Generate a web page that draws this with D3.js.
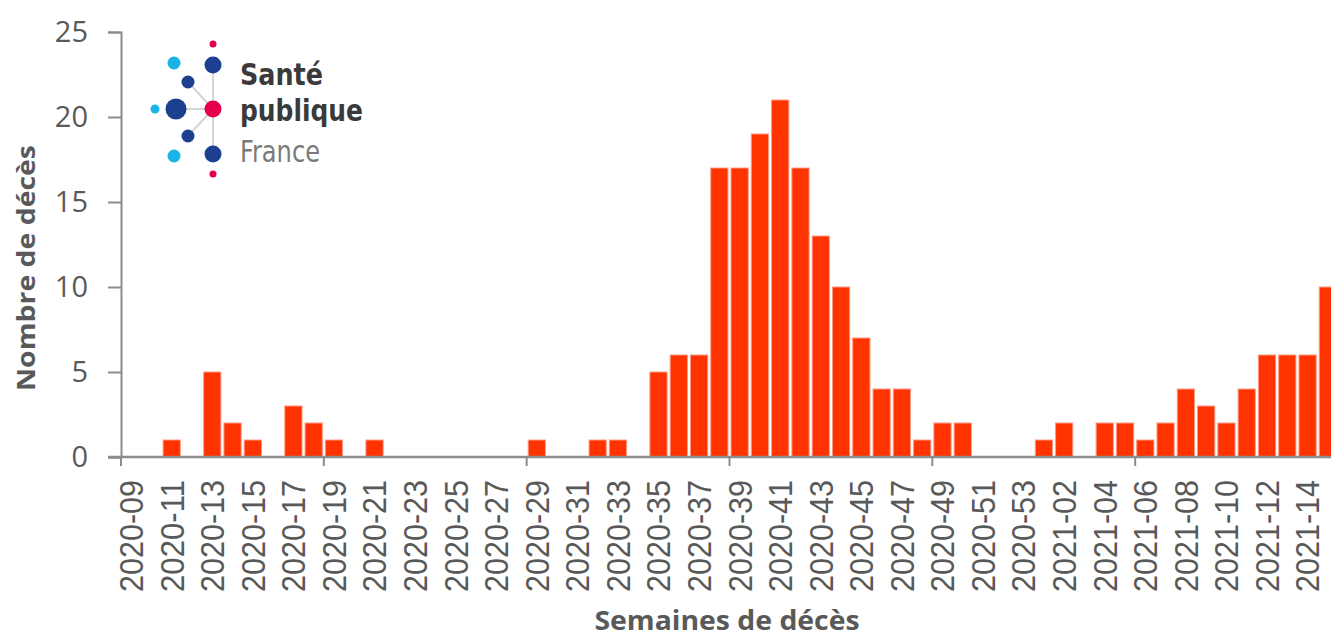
<!DOCTYPE html>
<html>
<head>
<meta charset="utf-8">
<script src="https://cdn.jsdelivr.net/npm/d3@7"></script>
<style>
  html, body { margin: 0; padding: 0; background: #fff; overflow: hidden; }
  svg { display: block; }
</style>
</head>
<body>
<svg id="chart" width="1331" height="637"></svg>
<script>
// Weekly death counts, 2020-09 to 2021-15
const weeks = [
  "2020-09","2020-10","2020-11","2020-12","2020-13","2020-14","2020-15","2020-16","2020-17","2020-18",
  "2020-19","2020-20","2020-21","2020-22","2020-23","2020-24","2020-25","2020-26","2020-27","2020-28",
  "2020-29","2020-30","2020-31","2020-32","2020-33","2020-34","2020-35","2020-36","2020-37","2020-38",
  "2020-39","2020-40","2020-41","2020-42","2020-43","2020-44","2020-45","2020-46","2020-47","2020-48",
  "2020-49","2020-50","2020-51","2020-52","2020-53","2021-01","2021-02","2021-03","2021-04","2021-05",
  "2021-06","2021-07","2021-08","2021-09","2021-10","2021-11","2021-12","2021-13","2021-14","2021-15"
];
const deaths = [
  0,0,1,0,5,2,1,0,3,2,
  1,0,1,0,0,0,0,0,0,0,
  1,0,0,1,1,0,5,6,6,17,
  17,19,21,17,13,10,7,4,4,1,
  2,2,0,0,0,1,2,0,2,2,
  1,2,4,3,2,4,6,6,6,10
];
const yTicks = [0, 5, 10, 15, 20, 25];
const xLabelEvery = 2;   // one label every other week
const xTickEvery = 10;   // one tick mark every ten weeks

const xTitle = "Semaines de décès";
const yTitle = "Nombre de décès";
const logoLines = ["Santé", "publique", "France"];

const svg = d3.select("#chart");
const axisColor = "#8c8c8c";
const textColor = "#595959";

const x = d3.scaleBand()
  .domain(weeks)
  .range([121, 1338])
  .paddingInner(0.15)
  .paddingOuter(0.075);

const y = d3.scaleLinear().domain([0, 25]).range([457, 32]);

// Bars
svg.append("g")
  .selectAll("rect")
  .data(weeks.map((w, i) => ({ w, v: deaths[i] })).filter(d => d.v > 0))
  .join("rect")
  .attr("x", d => x(d.w))
  .attr("y", d => y(d.v))
  .attr("width", x.bandwidth())
  .attr("height", d => y(0) - y(d.v))
  .attr("fill", "#ff3300")
  .attr("stroke", "#ff9a85")
  .attr("stroke-width", 1);

// Y axis
const yAxis = svg.append("g")
  .attr("transform", `translate(${x.range()[0]},0)`)
  .call(d3.axisLeft(y).tickValues(yTicks).tickSize(13).tickPadding(20).tickSizeOuter(13));
yAxis.select(".domain").attr("stroke", axisColor).attr("stroke-width", 2);
yAxis.selectAll(".tick line").attr("stroke", axisColor).attr("stroke-width", 2);
yAxis.selectAll(".tick text")
  .attr("fill", textColor)
  .style("font-family", "'Open Sans', sans-serif")
  .style("font-size", "29px");

// X axis: labels centred on every other week
const xAxis = svg.append("g")
  .attr("transform", `translate(0,${y(0)})`)
  .call(d3.axisBottom(x)
    .tickValues(weeks.filter((w, i) => i % xLabelEvery === 0))
    .tickSize(0).tickSizeOuter(0));
xAxis.select(".domain").remove();
xAxis.selectAll(".tick text")
  .attr("fill", textColor)
  .attr("transform", "rotate(-90)")
  .attr("text-anchor", "end")
  .attr("x", -23)
  .attr("y", 0)
  .attr("dy", "0.36em")
  .attr("textLength", 112)
  .attr("lengthAdjust", "spacingAndGlyphs")
  .style("font-family", "'Liberation Sans', Arial, sans-serif")
  .style("font-size", "33px");

// X axis baseline and boundary tick marks
const step = x.step();
const boundary = i => x(weeks[i]) - x.paddingInner() * step / 2;
svg.append("line")
  .attr("x1", x.range()[0] - 13).attr("x2", x.range()[1])
  .attr("y1", y(0)).attr("y2", y(0))
  .attr("stroke", axisColor).attr("stroke-width", 2.5);
svg.append("g")
  .selectAll("line")
  .data(d3.range(0, weeks.length, xTickEvery))
  .join("line")
  .attr("x1", i => boundary(i)).attr("x2", i => boundary(i))
  .attr("y1", y(0)).attr("y2", y(0) + 9)
  .attr("stroke", axisColor).attr("stroke-width", 2);

// Axis titles
svg.append("text")
  .attr("x", 727).attr("y", 630)
  .attr("text-anchor", "middle")
  .attr("textLength", 265).attr("lengthAdjust", "spacingAndGlyphs")
  .attr("fill", textColor)
  .style("font-family", "'Open Sans', sans-serif")
  .style("font-weight", "bold")
  .style("font-size", "26px")
  .text(xTitle);

svg.append("text")
  .attr("transform", "translate(35,268) rotate(-90)")
  .attr("text-anchor", "middle")
  .attr("textLength", 246).attr("lengthAdjust", "spacingAndGlyphs")
  .attr("fill", textColor)
  .style("font-family", "'Open Sans', sans-serif")
  .style("font-weight", "bold")
  .style("font-size", "25px")
  .text(yTitle);

// Santé publique France logo
const logo = svg.append("g");
const navy = "#1d3f8f", sky = "#19b3e6", pink = "#e6004c";
const hub = { x: 213, y: 109 };
const spokes = [[213, 65], [213, 156], [176, 109], [188, 82], [188, 136]];
logo.selectAll("line.spoke")
  .data(spokes)
  .join("line")
  .attr("class", "spoke")
  .attr("x1", hub.x).attr("y1", hub.y)
  .attr("x2", d => d[0]).attr("y2", d => d[1])
  .attr("stroke", "#d4d4d4").attr("stroke-width", 2);
const dots = [
  [213, 44, 3.5, pink], [213, 65, 8.5, navy], [174, 63, 6.5, sky], [188, 82, 6.5, navy],
  [176, 109, 10.5, navy], [155, 109, 4.5, sky], [213, 109, 8.5, pink],
  [188, 136, 6.5, navy], [174, 156, 6.5, sky], [213, 154, 8.5, navy], [213, 174, 3.5, pink]
];
logo.selectAll("circle")
  .data(dots)
  .join("circle")
  .attr("cx", d => d[0]).attr("cy", d => d[1]).attr("r", d => d[2])
  .attr("fill", d => d[3]);
const logoText = [
  { t: logoLines[0], y: 85, w: 83, bold: true },
  { t: logoLines[1], y: 121, w: 123, bold: true },
  { t: logoLines[2], y: 162, w: 80, bold: false }
];
logo.selectAll("text")
  .data(logoText)
  .join("text")
  .attr("x", 240).attr("y", d => d.y)
  .attr("textLength", d => d.w).attr("lengthAdjust", "spacingAndGlyphs")
  .attr("fill", d => d.bold ? "#3a3a3a" : "#7a7a7a")
  .style("font-family", "'DejaVu Sans Condensed', 'DejaVu Sans', sans-serif")
  .style("font-weight", d => d.bold ? "bold" : "normal")
  .style("font-size", "30px")
  .text(d => d.t);
</script>
</body>
</html>
